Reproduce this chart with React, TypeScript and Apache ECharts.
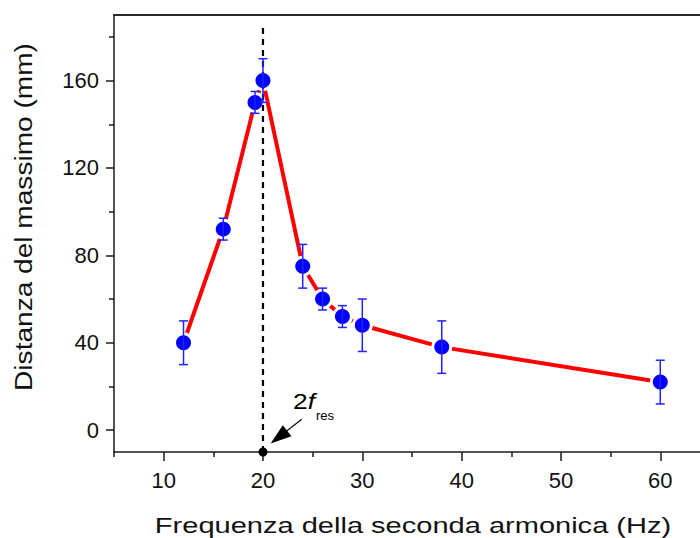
import React, { useEffect, useRef } from "react";
import * as echarts from "echarts";

// ---- data ----
const freq = [12, 16, 19.2, 20, 24, 26, 28, 30, 38, 60];
const dist = [40, 92, 150, 160, 75, 60, 52, 48, 38, 22];
const err = [10, 5, 5, 10, 10, 5, 5, 12, 12, 10];

const xMajorTicks = [10, 20, 30, 40, 50, 60];
const xMinorTicks = [5, 15, 25, 35, 45, 55];
const yMajorTicks = [0, 40, 80, 120, 160];
const yMinorTicks = [20, 60, 100, 140, 180];

const resonanceLine = [[20, -10], [20, 184]];
const resonanceDot = [[20, -10]];
const arrowFrom = [23.9, 5.0];
const arrowTo = [21.6, -3.2];

const xTitle = "Frequenza della seconda armonica (Hz)";
const yTitle = "Distanza del massimo (mm)";

export default function App() {
  const ref = useRef<HTMLDivElement>(null);

  useEffect(() => {
    const chart = echarts.init(ref.current!, null, { renderer: "svg" });
    const font = "'Liberation Sans', Arial, sans-serif";
    const axisColor = "#1a1a1a";
    const pts = freq.map((f, i) => [f, dist[i]]);
    const bars = freq.map((f, i) => [f, dist[i] - err[i], dist[i] + err[i]]);

    const xBase: any = {
      type: "value",
      min: 5,
      max: 64,
      interval: 5,
      splitLine: { show: false },
      gridIndex: 0,
    };
    const yBase: any = {
      type: "value",
      min: -10,
      max: 190,
      splitLine: { show: false },
      gridIndex: 0,
    };
    const tickStyle = { color: axisColor, width: 1.5 };

    chart.setOption({
      animation: false,
      backgroundColor: "#ffffff",
      grid: { left: 114, right: 0, top: 15, bottom: 86, containLabel: false },
      xAxis: [
        {
          ...xBase,
          position: "bottom",
          axisLine: { show: true, onZero: false, lineStyle: { color: axisColor, width: 1.5 } },
          axisTick: { show: true, customValues: xMajorTicks, length: 9, lineStyle: tickStyle },
          axisLabel: {
            customValues: xMajorTicks,
            fontFamily: font,
            fontSize: 22,
            color: "#111",
            margin: 17,
          },
        },
        {
          ...xBase,
          position: "bottom",
          axisLine: { show: false, onZero: false },
          axisTick: { show: true, customValues: xMinorTicks, length: 5, lineStyle: tickStyle },
          axisLabel: { show: false },
        },
        {
          ...xBase,
          position: "top",
          axisLine: { show: true, onZero: false, lineStyle: { color: "#2a2a2a", width: 2 } },
          axisTick: { show: false },
          axisLabel: { show: false },
        },
      ],
      yAxis: [
        {
          ...yBase,
          position: "left",
          axisLine: { show: true, onZero: false, lineStyle: { color: axisColor, width: 1.5 } },
          axisTick: { show: true, customValues: yMajorTicks, length: 8, lineStyle: tickStyle },
          axisLabel: {
            customValues: yMajorTicks,
            fontFamily: font,
            fontSize: 22,
            color: "#111",
            margin: 15,
          },
        },
        {
          ...yBase,
          position: "left",
          axisLine: { show: false, onZero: false },
          axisTick: { show: true, customValues: yMinorTicks, length: 5, lineStyle: tickStyle },
          axisLabel: { show: false },
        },
      ],
      series: [
        {
          type: "line",
          data: pts,
          xAxisIndex: 0,
          yAxisIndex: 0,
          symbol: "none",
          lineStyle: { color: "#ff0000", width: 4 },
          z: 2,
          silent: true,
        },
        {
          type: "scatter",
          data: pts,
          symbolSize: 21,
          itemStyle: { color: "#ffffff", opacity: 1 },
          z: 3,
          silent: true,
        },
        {
          type: "line",
          data: resonanceLine,
          symbol: "none",
          lineStyle: { color: "#000000", width: 2.2, type: [6, 5] },
          z: 4,
          silent: true,
        },
        {
          type: "scatter",
          data: pts,
          symbolSize: 15,
          itemStyle: { color: "#0000ff", opacity: 1 },
          z: 5,
          silent: true,
        },
        {
          type: "custom",
          data: bars,
          encode: { x: 0, y: [1, 2] },
          z: 6,
          silent: true,
          renderItem: (params: any, api: any) => {
            const x = api.value(0);
            const pLo = api.coord([x, api.value(1)]);
            const pHi = api.coord([x, api.value(2)]);
            const hw = 4.5;
            const style = { stroke: "#2222ff", lineWidth: 1.5 };
            return {
              type: "group",
              children: [
                { type: "line", shape: { x1: pHi[0], y1: pHi[1], x2: pLo[0], y2: pLo[1] }, style },
                { type: "line", shape: { x1: pHi[0] - hw, y1: pHi[1], x2: pHi[0] + hw, y2: pHi[1] }, style },
                { type: "line", shape: { x1: pLo[0] - hw, y1: pLo[1], x2: pLo[0] + hw, y2: pLo[1] }, style },
              ],
            };
          },
        },
        {
          type: "scatter",
          data: resonanceDot,
          symbolSize: 9,
          clip: false,
          itemStyle: { color: "#000000", opacity: 1 },
          z: 7,
          silent: true,
          markLine: {
            silent: true,
            animation: false,
            symbol: ["none", "triangle"],
            symbolSize: [14, 21],
            label: { show: false },
            lineStyle: { color: "#000000", width: 1.2, type: "solid" },
            data: [[{ coord: arrowFrom }, { coord: arrowTo }]],
          },
        },
      ],
      graphic: [
        {
          type: "text",
          x: 413,
          y: 525,
          scaleX: 1.32,
          style: {
            text: xTitle,
            font: `22px ${font}`,
            fill: "#111",
            textAlign: "center",
            textVerticalAlign: "middle",
          },
        },
        {
          type: "text",
          x: 24,
          y: 217,
          rotation: Math.PI / 2,
          scaleX: 1.17,
          style: {
            text: yTitle,
            font: `24px ${font}`,
            fill: "#111",
            textAlign: "center",
            textVerticalAlign: "middle",
          },
        },
        {
          type: "text",
          x: 293,
          y: 401,
          scaleX: 1.2,
          style: {
            text: "{n|2}{i|f}",
            rich: {
              n: { fontFamily: font, fontSize: 22, fill: "#000" },
              i: { fontFamily: font, fontSize: 22, fontStyle: "italic", fill: "#000" },
            },
            textAlign: "left",
            textVerticalAlign: "middle",
          },
        },
        {
          type: "text",
          x: 316,
          y: 415,
          style: {
            text: "res",
            font: `13px ${font}`,
            fill: "#000",
            textAlign: "left",
            textVerticalAlign: "middle",
          },
        },
      ],
    });

    return () => chart.dispose();
  }, []);

  return (
    <div
      ref={ref}
      style={{ position: "fixed", left: 0, top: 0, width: 700, height: 538, background: "#fff" }}
    />
  );
}
